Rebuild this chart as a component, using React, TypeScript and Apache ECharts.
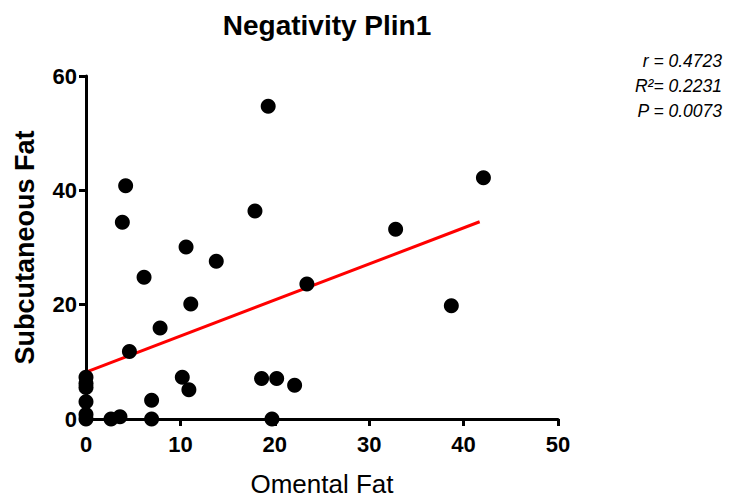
import React, { useEffect, useRef } from "react";
import * as echarts from "echarts";

const omentalFat = [0, 0, 0, 0, 0, 0, 2.65, 3.6, 6.95, 6.95, 4.2, 3.85, 6.15, 4.6, 7.85, 10.6, 11.1, 10.2, 10.9, 13.8, 17.9, 19.3, 18.6, 20.2, 22.1, 19.7, 23.4, 32.8, 38.7, 42.1];
const subcutaneousFat = [7.3, 6.2, 5.5, 3.0, 0.8, 0, 0, 0.4, 3.3, 0, 40.8, 34.4, 24.8, 11.8, 15.9, 30.1, 20.1, 7.3, 5.1, 27.6, 36.4, 54.7, 7.1, 7.1, 5.9, 0, 23.6, 33.2, 19.8, 42.2];
const fitX = [0, 41.7];
const fitY = [8.2, 34.5];
const xTicks = [0, 50, 10];
const yTicks = [0, 60, 20];
const statLines = ["r = 0.4723", "R\u00B2= 0.2231", "P = 0.0073"];

const FONT = "'Liberation Sans Narrow', 'Liberation Sans', Arial, sans-serif";

export default function App() {
  const ref = useRef<HTMLDivElement>(null);
  useEffect(() => {
    if (!ref.current) return;
    const chart = echarts.init(ref.current, null, { renderer: "svg" });
    const points = omentalFat.map((x, i) => [x, subcutaneousFat[i]]);
    const fit = fitX.map((x, i) => [x, fitY[i]]);
    chart.setOption({
      animation: false,
      backgroundColor: "#ffffff",
      title: {
        text: "Negativity Plin1",
        left: 322,
        textAlign: "center",
        top: 6,
        textStyle: { fontFamily: FONT, fontSize: 28, fontWeight: "bold", color: "#000" },
      },
      grid: { left: 86, right: 174, top: 76, bottom: 80, containLabel: false, outerBoundsMode: "none" },
      xAxis: {
        type: "value",
        min: xTicks[0],
        max: xTicks[1],
        interval: xTicks[2],
        name: "Omental Fat",
        nameLocation: "middle",
        nameGap: 52,
        nameTextStyle: { fontFamily: FONT, fontSize: 26, color: "#000" },
        axisLine: { show: true, onZero: false, lineStyle: { color: "#000", width: 3 } },
        axisTick: { show: true, length: 7, lineStyle: { color: "#000", width: 3 } },
        axisLabel: { fontFamily: FONT, fontSize: 22, fontWeight: "bold", color: "#000", margin: 14 },
        splitLine: { show: false },
      },
      yAxis: {
        type: "value",
        min: yTicks[0],
        max: yTicks[1],
        interval: yTicks[2],
        name: "Subcutaneous Fat",
        nameLocation: "middle",
        nameGap: 48,
        nameTextStyle: { fontFamily: FONT, fontSize: 27, fontWeight: "bold", color: "#000" },
        axisLine: { show: true, onZero: false, lineStyle: { color: "#000", width: 3 } },
        axisTick: { show: true, length: 7, lineStyle: { color: "#000", width: 3 } },
        axisLabel: { fontFamily: FONT, fontSize: 22, fontWeight: "bold", color: "#000", margin: 9 },
        splitLine: { show: false },
      },
      series: [
        {
          type: "line",
          data: fit,
          symbol: "none",
          lineStyle: { color: "#ff0000", width: 3 },
          z: 2,
        },
        {
          type: "scatter",
          data: points,
          symbol: "circle",
          symbolSize: 15,
          itemStyle: { color: "#000", opacity: 1 },
          clip: false,
          z: 3,
        },
      ],
      graphic: statLines.map((t, i) => ({
        type: "text",
        right: 10,
        top: 52 + i * 25,
        style: {
          text: t,
          fontFamily: "'Liberation Sans', Arial, sans-serif",
          fontStyle: "italic",
          fontSize: 17.5,
          fill: "#000",
          textAlign: "right",
        },
      })),
    });
    return () => chart.dispose();
  }, []);
  return <div ref={ref} style={{ position: "absolute", left: 0, top: 0, width: 732, height: 499 }} />;
}
